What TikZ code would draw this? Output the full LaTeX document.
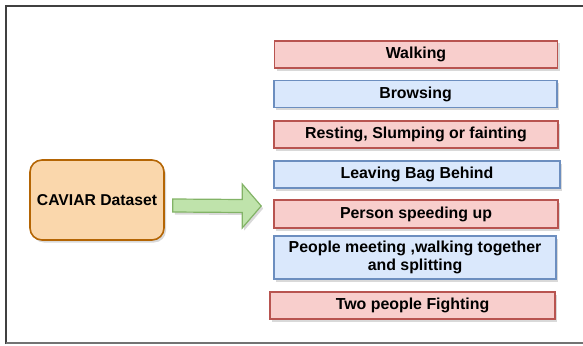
\documentclass[tikz,border=0pt]{standalone}
\usepackage{fontspec}
\setmainfont{Liberation Sans}
\usetikzlibrary{shadows,calc}
\definecolor{redfill}{HTML}{F8CECC}
\definecolor{redline}{HTML}{B85450}
\definecolor{bluefill}{HTML}{DAE8FC}
\definecolor{blueline}{HTML}{6C8EBF}
\definecolor{orangefill}{HTML}{FAD7AC}
\definecolor{orangeline}{HTML}{B46504}
\definecolor{greenfill}{HTML}{BFE3AB}
\definecolor{greenline}{HTML}{82B366}
\tikzset{
  boxshadow/.style={drop shadow={shadow xshift=2pt,shadow yshift=-2.5pt,opacity=0.3,fill=gray}},
  item/.style={rectangle, line width=1.6pt, inner sep=0pt, align=center,
    font=\fontsize{15.9}{18}\selectfont\bfseries, boxshadow},
  redbox/.style={item, fill=redfill, draw=redline},
  bluebox/.style={item, fill=bluefill, draw=blueline},
}
\begin{document}
\begin{tikzpicture}[x=1pt,y=-1pt]
\useasboundingbox (0,0) rectangle (583,345);
% outer frame
\draw[line width=1.5pt, draw=black!75] (6,344) -- (6,6) -- (583,6);
\draw[line width=2pt, draw=black!55] (6,343) -- (583,343);

% source
\node[rectangle, rounded corners=12pt, line width=1.6pt, fill=orangefill, draw=orangeline,
  minimum width=134pt, minimum height=80pt, font=\fontsize{15.7}{18}\selectfont\bfseries, boxshadow]
  (caviar) at (97,200) {CAVIAR Dataset};

% activity list
\node[redbox,  minimum width=283pt, minimum height=27pt] (walk)  at (416,54.5)  {Walking};
\node[bluebox, minimum width=283pt, minimum height=27pt] (brow)  at (415.5,94) {Browsing};
\node[redbox,  minimum width=284pt, minimum height=27pt] (rest)  at (416,134.5) {Resting, Slumping or fainting};
\node[bluebox, minimum width=286pt, minimum height=27pt] (leave) at (417,174.5) {Leaving Bag Behind};
\node[redbox,  minimum width=284pt, minimum height=28pt] (speed) at (416,214)   {Person speeding up};
\node[bluebox, minimum width=282pt, minimum height=43pt] (meet)  at (415,257.5)
  {People meeting ,walking together\\and splitting};
\node[redbox,  minimum width=285pt, minimum height=27pt] (fight) at (412.5,305.5) {Two people Fighting};

% block arrow from the dataset to the list
\coordinate (a0) at ($(caviar.east)+(8,5.5)$);
\coordinate (tip) at ($(speed.west)+(-12,-8)$);
\draw[line width=1.2pt, draw=greenline, fill=greenfill, line join=miter, boxshadow]
  ($(a0)+(0,-6.5)$) -- ($(tip)+(-19,-6.5)$) -- ($(tip)+(-19,-22)$) -- (tip)
  -- ($(tip)+(-19,22)$) -- ($(tip)+(-19,6.5)$) -- ($(a0)+(0,6.5)$) -- cycle;
\end{tikzpicture}
\end{document}
